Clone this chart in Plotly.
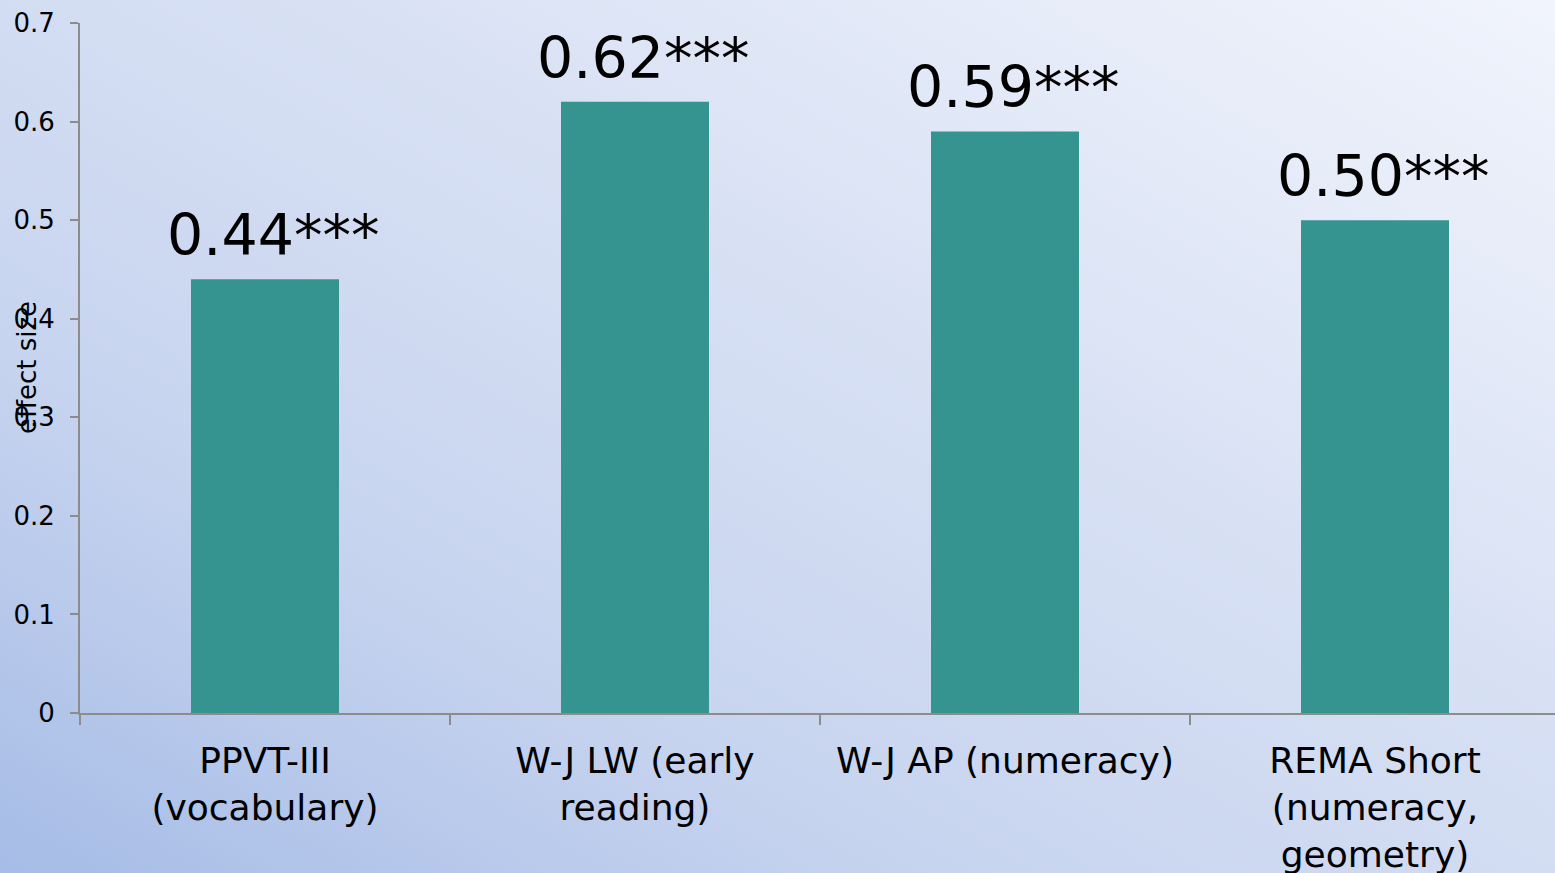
import base64
import plotly.graph_objects as go

# Effect sizes by outcome measure
categories = [
    "PPVT-III<br>(vocabulary)",
    "W-J LW (early<br>reading)",
    "W-J AP (numeracy)",
    "REMA Short<br>(numeracy,<br>geometry)",
]
effect_sizes = [0.44, 0.62, 0.59, 0.50]
significance = ["***", "***", "***", "***"]
y_ticks = [0, 0.1, 0.2, 0.3, 0.4, 0.5, 0.6, 0.7]

W, H = 1555, 873
ML, MR, MT, MB = 80, 0, 23, 160
PW, PH = W - ML - MR, H - MT - MB

FONT = "DejaVu Sans, Verdana, sans-serif"
BAR = "#359490"
AXIS = "#8c8c8c"

# Diagonal slide-style background gradient
svg = (
    '<svg xmlns="http://www.w3.org/2000/svg" width="1555" height="873" '
    'preserveAspectRatio="none" viewBox="0 0 1555 873">'
    '<defs><linearGradient id="g" x1="0" y1="1" x2="1" y2="0">'
    '<stop offset="0" stop-color="#a6bce6"/>'
    '<stop offset="0.3" stop-color="#c7d4ef"/>'
    '<stop offset="0.6" stop-color="#d8e1f4"/>'
    '<stop offset="1" stop-color="#f1f4fc"/>'
    '</linearGradient></defs>'
    '<rect width="1555" height="873" fill="url(#g)"/></svg>'
)
bg_src = "data:image/svg+xml;base64," + base64.b64encode(svg.encode()).decode()

labels = [f"{v:.2f}{s}" for v, s in zip(effect_sizes, significance)]

fig = go.Figure(
    go.Bar(
        x=categories,
        y=effect_sizes,
        marker=dict(color=BAR, line=dict(width=0)),
        hoverinfo="skip",
    )
)

# Value labels above each bar
value_notes = [
    dict(
        x=c,
        y=v,
        xref="x",
        yref="y",
        text=t,
        showarrow=False,
        xanchor="center",
        yanchor="bottom",
        xshift=8,
        yshift=9,
        font=dict(family=FONT, size=57, color="black"),
    )
    for c, v, t in zip(categories, effect_sizes, labels)
]

fig.update_layout(
    width=W,
    height=H,
    margin=dict(l=ML, r=MR, t=MT, b=MB, pad=0, autoexpand=False),
    paper_bgcolor="#d4ddf2",
    plot_bgcolor="rgba(0,0,0,0)",
    bargap=0.6,
    showlegend=False,
    font=dict(family=FONT, color="black"),
    images=[
        dict(
            source=bg_src,
            xref="paper",
            yref="paper",
            x=-ML / PW,
            y=1 + MT / PH,
            sizex=W / PW,
            sizey=H / PH,
            xanchor="left",
            yanchor="top",
            sizing="stretch",
            layer="below",
        )
    ],
    xaxis=dict(
        type="category",
        range=[-0.5, -0.5 + PW / 370],
        automargin=False,
        showline=True,
        linecolor=AXIS,
        linewidth=2,
        ticks="outside",
        tickson="boundaries",
        ticklen=10,
        tickwidth=2,
        tickcolor=AXIS,
        showgrid=False,
        tickfont=dict(family=FONT, size=36, color="black"),
        tickangle=0,
        ticklabelstandoff=15,
    ),
    yaxis=dict(
        range=[0, 0.7],
        automargin=False,
        tickvals=y_ticks,
        ticktext=[f"{t:g}" for t in y_ticks],
        showline=True,
        linecolor=AXIS,
        linewidth=2,
        ticks="outside",
        ticklen=8,
        tickwidth=2,
        tickcolor=AXIS,
        showgrid=False,
        zeroline=False,
        tickfont=dict(family=FONT, size=26, color="black"),
        ticklabelstandoff=10,
    ),
    annotations=value_notes
    + [
        dict(
            text="effect size",
            xref="paper",
            yref="paper",
            x=(27 - ML) / PW,
            y=1 - (367 - MT) / PH,
            xanchor="center",
            yanchor="middle",
            textangle=-90,
            showarrow=False,
            font=dict(family=FONT, size=26, color="black"),
        )
    ],
)

fig.write_html("out.html")
